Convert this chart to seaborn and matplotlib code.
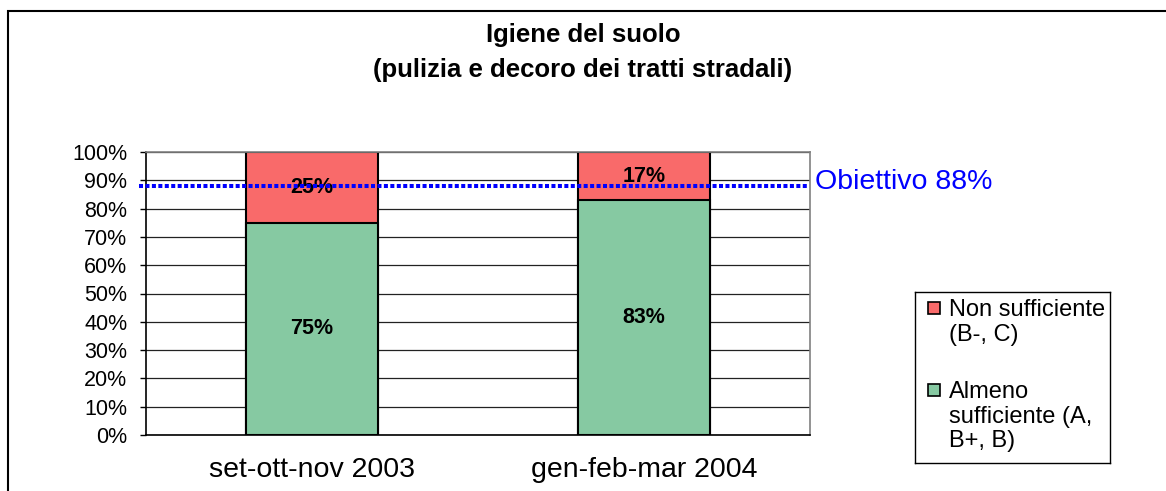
import pandas as pd
import matplotlib.pyplot as plt
import seaborn as sns
from matplotlib.patches import Rectangle

# dati
periodi = ['set-ott-nov 2003', 'gen-feb-mar 2004']
almeno_sufficiente = [75, 83]
non_sufficiente = [25, 17]
obiettivo = 88

df = pd.DataFrame({'periodo': periodi,
                   'almeno': almeno_sufficiente,
                   'non': non_sufficiente})
df['totale'] = df['almeno'] + df['non']

sns.set_style('white')
plt.rcParams['font.family'] = ['Liberation Sans', 'DejaVu Sans']
plt.rcParams['text.color'] = 'black'
plt.rcParams['xtick.color'] = 'black'
plt.rcParams['ytick.color'] = 'black'

fig = plt.figure(figsize=(11.66, 4.91), dpi=100)
ax = fig.add_axes([146 / 1166, 1 - 435 / 491, 664 / 1166, 283 / 491])

red = '#F96A6A'
green = '#86C9A2'

# barre impilate: prima il totale (rosso), poi la parte verde sopra
sns.barplot(data=df, x='periodo', y='totale', color=red, width=0.4,
            edgecolor='black', linewidth=1.5, ax=ax, saturation=1, zorder=2)
sns.barplot(data=df, x='periodo', y='almeno', color=green, width=0.4,
            edgecolor='black', linewidth=1.5, ax=ax, saturation=1, zorder=3)

# etichette dei valori
for i, (a, n) in enumerate(zip(almeno_sufficiente, non_sufficiente)):
    ax.text(i, a / 2, f'{a}%', ha='center', va='center', fontsize=15.5,
            fontweight='bold', zorder=5)
    ax.text(i, a + n / 2, f'{n}%', ha='center', va='center', fontsize=15.5,
            fontweight='bold', zorder=5)

# linea obiettivo
ax.axhline(obiettivo, xmin=-0.01, xmax=0.997, color='#0000FF', linestyle=(0, (1, 0.6)),
           linewidth=2.9, zorder=6, clip_on=False)
ax.text(1.008, obiettivo + 1.5, f'Obiettivo {obiettivo}%', transform=ax.get_yaxis_transform(),
        color='#0000FF', fontsize=20.5, va='center', ha='left')

ax.set_ylim(0, 100)
ax.set_xlim(-0.5, 1.5)
ax.set_yticks(range(0, 101, 10))
ax.set_yticklabels([f'{v}%' for v in range(0, 101, 10)], fontsize=15.5)
ax.set_xticks([-0.5, 0.5, 1.5], minor=False)
ax.set_xticklabels(['', '', ''])
ax.set_xticks([0, 1], minor=True)
ax.set_xticklabels(periodi, minor=True, fontsize=20.5)
ax.tick_params(axis='x', which='minor', length=0, pad=16)
ax.tick_params(axis='x', which='major', direction='out', length=4.5, width=1)
ax.tick_params(axis='y', direction='out', length=4.5, width=1, pad=9, left=True)
ax.set_xlabel('')
ax.set_ylabel('')
ax.yaxis.grid(True, color='#222222', linewidth=0.9, zorder=0)
ax.set_axisbelow(True)
for s in ['top', 'right']:
    ax.spines[s].set_color('#808080')
    ax.spines[s].set_linewidth(1.2)
for s in ['left', 'bottom']:
    ax.spines[s].set_color('black')
    ax.spines[s].set_linewidth(1.2)

# legenda
leg_ax = fig.add_axes([915 / 1166, 1 - 463 / 491, 195 / 1166, 171 / 491])
leg_ax.set_xlim(0, 195)
leg_ax.set_ylim(171, 0)
leg_ax.set_xticks([])
leg_ax.set_yticks([])
for s in leg_ax.spines.values():
    s.set_color('black')
    s.set_linewidth(1)
leg_ax.add_patch(Rectangle((13, 10), 12, 12, facecolor=red, edgecolor='black', linewidth=1.2))
leg_ax.text(34, 30.5, 'Non sufficiente\n(B-, C)', va='center', ha='left',
            fontsize=17, linespacing=1.15)
leg_ax.add_patch(Rectangle((13, 92), 12, 12, facecolor=green, edgecolor='black', linewidth=1.2))
leg_ax.text(34, 124.5, 'Almeno\nsufficiente (A,\nB+, B)', va='center', ha='left',
            fontsize=17, linespacing=1.15)

# titolo
fig.text(0.5, 1 - 35 / 491, 'Igiene del suolo', ha='center', va='center',
         fontsize=18.5, fontweight='bold')
fig.text(0.5, 1 - 70 / 491, '(pulizia e decoro dei tratti stradali)', ha='center',
         va='center', fontsize=18.5, fontweight='bold')

# bordo esterno
fig.patches.append(Rectangle((8 / 1166, -0.1), 1.2, 1 - 11 / 491 + 0.1,
                             transform=fig.transFigure, fill=False,
                             edgecolor='black', linewidth=1.5))

fig.savefig('out.png', dpi=100)
